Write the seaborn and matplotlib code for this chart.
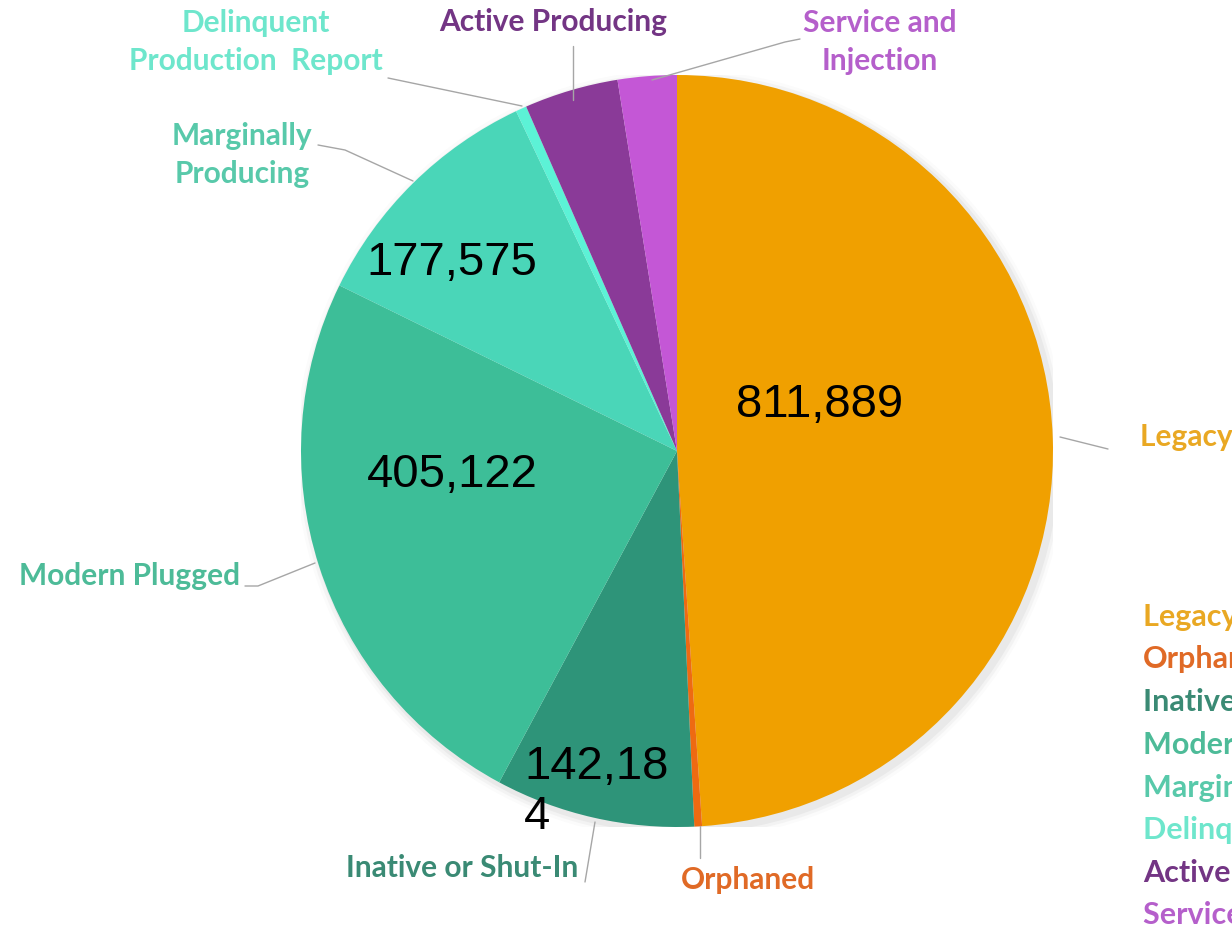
import matplotlib
matplotlib.use("Agg")
import matplotlib.pyplot as plt
import seaborn as sns
from matplotlib.lines import Line2D
from matplotlib.patches import Circle

# ---- data (clockwise from 12 o'clock) ----
categories = ["Legacy Plugged", "Orphaned", "Inative or Shut-In", "Modern Plugged",
              "Marginally Producing", "Delinquent Production Report",
              "Active Producing", "Service and Injection"]
well_counts = [811889, 5500, 142184, 405122, 177575, 7800, 67000, 42000]
shown_values = [811889, 405122, 177575, 142184]

slice_colors = ["#F0A000", "#EE6A12", "#2E9479", "#3DBE98", "#4AD6B8",
                "#5CF2D6", "#8A3A98", "#C457D6"]
text_colors = ["#E9A823", "#E06A26", "#3A8A74", "#4DBB98", "#58C9AA",
               "#6EE6CC", "#733584", "#B55FCB"]

W, H = 1232, 935
sns.set_theme(style="white")
plt.rcParams["font.family"] = ["Lato", "DejaVu Sans"]

fig = plt.figure(figsize=(W / 100, H / 100), dpi=100)
fig.patch.set_facecolor("white")

cx, cy, R = 677, 451, 376
ax = fig.add_axes([(cx - R) / W, (H - cy - R) / H, 2 * R / W, 2 * R / H])
ax.set_axis_off()

# soft halo
for i, a in enumerate([0.10, 0.07, 0.04]):
    ax.add_patch(Circle((0.01, -0.01), 1.0 + 0.008 * (i + 1), color="#9a9a9a",
                        alpha=a, zorder=0, lw=0))

wedges, _ = ax.pie(well_counts, colors=slice_colors, startangle=90,
                   counterclock=False, radius=1.0,
                   wedgeprops=dict(linewidth=0))
ax.set_xlim(-1, 1)
ax.set_ylim(-1, 1)
ax.set_aspect("equal")


def fx(x):
    return x / W


def fy(y):
    return 1 - y / H


# ---- value labels inside slices ----
num_font = dict(family=["Liberation Sans", "DejaVu Sans"], fontsize=34, color="black")
fig.text(fx(820), fy(405), f"{shown_values[0]:,}", ha="center", va="center", **num_font)
fig.text(fx(452), fy(475), f"{shown_values[1]:,}", ha="center", va="center", **num_font)
fig.text(fx(452), fy(263), f"{shown_values[2]:,}", ha="center", va="center", **num_font)
s = f"{shown_values[3]:,}"
fig.text(fx(524), fy(792), s[:-1] + "\n" + s[-1], ha="left", va="center",
         multialignment="left", linespacing=1.15, **num_font)

# ---- outer labels with leader lines ----
lab_font = dict(fontsize=21.5, fontweight="bold")
outer = [
    (0, "Legacy Plugged", 1140, 437, "left", [(1060, 437), (1108, 449)]),
    (1, "Orphaned", 748, 880, "center", [(700, 826), (700, 858)]),
    (2, "Inative or Shut-In", 462, 868, "center", [(595, 822), (585, 882)]),
    (3, "Modern Plugged", 130, 576, "center", [(245, 586), (258, 586), (315, 563)]),
    (4, "Marginally\nProducing", 242, 155, "center", [(318, 145), (345, 150), (413, 181)]),
    (5, "Delinquent\nProduction  Report", 256, 42, "center", [(388, 78), (522, 106)]),
    (6, "Active Producing", 553, 22, "center", [(573, 46), (573, 100)]),
    (7, "Service and\nInjection", 880, 42, "center", [(800, 39), (785, 42), (652, 80)]),
]
for idx, txt, x, y, ha, pts in outer:
    fig.text(fx(x), fy(y), txt, ha=ha, va="center", color=text_colors[idx],
             linespacing=1.45, **lab_font)
    fig.add_artist(Line2D([fx(p[0]) for p in pts], [fy(p[1]) for p in pts],
                          color="#a6a6a6", lw=1.0, transform=fig.transFigure))

# ---- legend (cut by right edge, as in the source) ----
leg_y = [617, 659, 702, 745, 788, 830, 873, 915]
for name, col, y in zip(categories, text_colors, leg_y):
    fig.text(fx(1143), fy(y), name, ha="left", va="center", color=col,
             fontsize=22, fontweight="bold")

fig.savefig("out.png", dpi=100, facecolor="white")
